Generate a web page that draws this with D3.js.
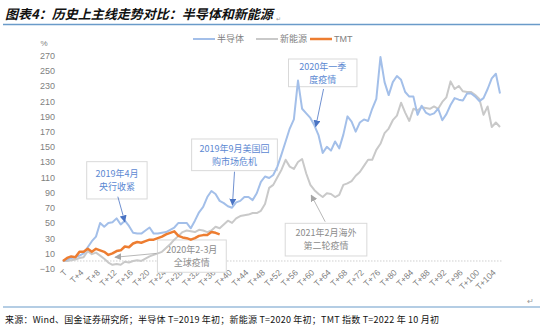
<!DOCTYPE html>
<html>
<head>
<meta charset="utf-8">
<script src="https://cdn.jsdelivr.net/npm/d3@7"></script>
<style>
  body { margin: 0; background: #fff; }
  svg { display: block; }
  text { font-family: "Liberation Sans", Arial, sans-serif; }
  .cjk { font-family: "Noto Sans CJK SC", "Liberation Sans", sans-serif; }
</style>
</head>
<body>
<svg id="chart" width="550" height="328"></svg>
<script>
// Categories: trading periods counted from the start T of each cycle
const categories = d3.range(107).map(i => i === 0 ? "T" : "T+" + i);
const tickLabels = categories.filter((d, i) => i % 4 === 0);
const yTicks = d3.range(-10, 271, 20);

// Cumulative change, %
const semiconductor = [
  0, 2, 4, 5, 7, 10, 18, 26, 32, 50,
  45, 50, 51, 56, 48, 53, 46, 37, 36, 36,
  40, 44, 36, 36, 37, 38, 41, 44, 50, 50,
  50, 43, 53, 64, 71, 84, 92, 88, 79, 76,
  72, 70, 77, 79, 84, 84, 80, 89, 104, 111,
  109, 113, 124, 140, 157, 174, 186, 237, 200, 194,
  188, 178, 165, 142, 150, 145, 157, 148, 166, 190,
  183, 170, 182, 186, 184, 200, 213, 268, 235, 218,
  235, 243, 238, 222, 216, 216, 192, 204, 195, 192,
  194, 200, 185, 193, 205, 214, 212, 211, 220, 220,
  216, 210, 214, 226, 240, 246, 220
];
const newEnergy = [
  0, 0, 1, 2, 4, 5, 13, 9, 11, 7,
  3, -2, -5, -4, -5, -1, -2, 0, 1, 0,
  3, 6, 8, 10, 12, 17, 22, 28, 33, 38,
  40, 39, 38, 41, 40, 38, 40, 45, 43, 48,
  53, 50, 56, 59, 60, 61, 63, 63, 66, 75,
  96, 100, 110, 120, 133, 124, 121, 130, 134, 115,
  100, 93, 88, 84, 89, 88, 84, 87, 100, 102,
  105, 112, 117, 125, 133, 133, 146, 154, 168, 174,
  185, 191, 208, 195, 184, 200, 198, 202, 201, 200,
  203, 200, 209, 215, 236, 226, 230, 223, 222, 222,
  218, 213, 192, 203, 176, 182, 176
];
const tmt = [
  0, 4, 6, 5, 12, 12, 16, 12, 16, 14,
  12, 8, 10, 13, 14, 19, 18, 23, 25, 24,
  26, 28, 28, 30, 32, 35, 37, 39, 33, 31,
  30, 28, 30, 33, 34, 34, 38, 37, 35
];
const seriesNames = ["半导体", "新能源", "TMT"];

// Event callouts, placed in data units (period index, %)
const callouts = [
  { lines: ["2019年4月", "央行收紧"], tone: "blue",
    box: [5.75, 20.4, 130.5, 81.5], from: [13.3, 84.5], to: [15, 51.6] },
  { lines: ["2019年9月美国回", "购市场危机"], tone: "blue",
    box: [31.2, 52, 160.3, 118.7], from: [41.6, 117.3], to: [41.1, 73.6] },
  { lines: ["2020年一季", "度疫情"], tone: "blue",
    box: [54.7, 71.3, 265.4, 229], from: [63.2, 226], to: [61.3, 176.5] },
  { lines: ["2020年2-3月", "全球疫情"], tone: "gray",
    box: [22.9, 39.6, 27.6, -14.8], from: [22.7, 10], to: [12.6, 4.9] },
  { lines: ["2021年2月海外", "第二轮疫情"], tone: "gray",
    box: [53.9, 73.7, 49.5, 6.6], from: [63.6, 51.6], to: [60.2, 86.7] }
];

const colors = { semi: "#a3bfe9", energy: "#c9c9c9", tmt: "#ed7d31" };
const tone = {
  blue: { text: "#5b88d2", arrow: "#4a74c4" },
  gray: { text: "#8c8c8c", arrow: "#a6a6a6" }
};

const svg = d3.select("#chart");

const x = d3.scalePoint().domain(categories).range([63, 500]);
const xi = d3.scaleLinear().domain([0, categories.length - 1]).range([63, 500]);
const y = d3.scaleLinear().domain([-10, 270]).range([268.6, 55.5]);

// Title and rules
svg.append("text").attr("class", "cjk")
  .attr("x", 5).attr("y", 19)
  .attr("font-size", 13).attr("font-weight", "bold").attr("font-style", "italic")
  .attr("fill", "#111")
  .text("图表4：历史上主线走势对比：半导体和新能源");
svg.append("text").attr("x", 276).attr("y", 21).attr("font-size", 6).attr("fill", "#999").text("↵");
svg.append("line").attr("x1", 3).attr("x2", 540).attr("y1", 24.5).attr("y2", 24.5)
  .attr("stroke", "#6a9bc9").attr("stroke-width", 1.5);

svg.append("line").attr("x1", 3).attr("x2", 540).attr("y1", 307).attr("y2", 307)
  .attr("stroke", "#6a9bc9").attr("stroke-width", 1.2);
svg.append("text").attr("x", 527).attr("y", 304).attr("font-size", 8).attr("fill", "#999").text("↵");
svg.append("text").attr("class", "cjk")
  .attr("x", 5).attr("y", 323).attr("font-size", 9).attr("fill", "#111")
  .attr("textLength", 434).attr("lengthAdjust", "spacing")
  .text("来源：Wind、国金证券研究所；半导体 T=2019 年初；新能源 T=2020 年初；TMT 指数 T=2022 年 10 月初");

// Y axis (labels only)
const yAxis = svg.append("g").attr("transform", "translate(59,0)")
  .call(d3.axisLeft(y).tickValues(yTicks).tickSize(0).tickPadding(4));
yAxis.select(".domain").remove();
yAxis.selectAll("text").attr("font-size", 9).attr("fill", "#7f7f7f")
  .style("font-family", "'Liberation Sans', Arial, sans-serif");

svg.append("text").attr("x", 44).attr("y", 46).attr("text-anchor", "middle")
  .attr("font-size", 8).attr("fill", "#7f7f7f").text("%");

// X axis on the zero line, labels below the plot
const xAxis = svg.append("g").attr("transform", `translate(0,${y(0)})`)
  .call(d3.axisBottom(x).tickValues(tickLabels).tickSize(0));
xAxis.select(".domain")
  .attr("d", `M62,0H502`)
  .attr("stroke", "#cfcfcf").attr("stroke-width", 1).attr("stroke-dasharray", "1.5,1.5");
xAxis.selectAll(".tick text")
  .attr("font-size", 8.5).attr("fill", "#7f7f7f")
  .style("font-family", "'Liberation Sans', Arial, sans-serif")
  .attr("text-anchor", "end")
  .attr("y", 0).attr("dy", "0.35em")
  .attr("transform", "translate(2,10) rotate(-45)");

// Callout boxes and text (lines run over them)
const notes = svg.append("g");
callouts.forEach(c => {
  const x0 = xi(c.box[0]), x1 = xi(c.box[1]);
  const y0 = y(c.box[2]), y1 = y(c.box[3]);
  notes.append("rect").attr("x", x0).attr("y", y0)
    .attr("width", x1 - x0).attr("height", y1 - y0)
    .attr("fill", "#fff").attr("stroke", "#d9d9d9").attr("stroke-width", 1);
  const cx = (x0 + x1) / 2, cy = (y0 + y1) / 2;
  c.lines.forEach((t, k) => {
    notes.append("text").attr("class", "cjk")
      .attr("x", cx).attr("y", cy + (k - (c.lines.length - 1) / 2) * 13)
      .attr("dy", "0.36em").attr("text-anchor", "middle")
      .attr("font-size", 9).attr("fill", tone[c.tone].text)
      .text(t);
  });
});

// Series lines
const line = d3.line().x((d, i) => x(categories[i])).y(d => y(d));
const series = [
  { values: newEnergy, color: colors.energy, width: 2 },
  { values: semiconductor, color: colors.semi, width: 2 },
  { values: tmt, color: colors.tmt, width: 2.5 }
];
svg.append("g").selectAll("path").data(series).join("path")
  .attr("d", d => line(d.values))
  .attr("fill", "none")
  .attr("stroke", d => d.color)
  .attr("stroke-width", d => d.width)
  .attr("stroke-linejoin", "round");

// Arrows
const defs = svg.append("defs");
Object.entries(tone).forEach(([k, v]) => {
  defs.append("marker").attr("id", "head-" + k)
    .attr("viewBox", "0 0 10 10").attr("refX", 9).attr("refY", 5)
    .attr("markerWidth", 7).attr("markerHeight", 7)
    .attr("markerUnits", "userSpaceOnUse")
    .attr("orient", "auto")
    .append("path").attr("d", "M0,0L10,5L0,10Z").attr("fill", v.arrow);
});
callouts.forEach(c => {
  svg.append("line")
    .attr("x1", xi(c.from[0])).attr("y1", y(c.from[1]))
    .attr("x2", xi(c.to[0])).attr("y2", y(c.to[1]))
    .attr("stroke", tone[c.tone].arrow).attr("stroke-width", 0.8)
    .attr("marker-end", `url(#head-${c.tone})`);
});

// Legend
const legend = svg.append("g").attr("transform", "translate(193,39)");
const legendItems = [
  { name: seriesNames[0], color: colors.semi, w: 2, dx: 0 },
  { name: seriesNames[1], color: colors.energy, w: 2, dx: 63 },
  { name: seriesNames[2], color: colors.tmt, w: 2.5, dx: 117 }
];
legendItems.forEach(d => {
  legend.append("line").attr("x1", d.dx).attr("x2", d.dx + 22)
    .attr("stroke", d.color).attr("stroke-width", d.w);
  legend.append("text").attr("class", d.name === "TMT" ? null : "cjk")
    .attr("x", d.dx + 24).attr("y", 0).attr("dy", "0.35em")
    .attr("font-size", 9).attr("fill", "#7f7f7f").text(d.name);
});
</script>
</body>
</html>
